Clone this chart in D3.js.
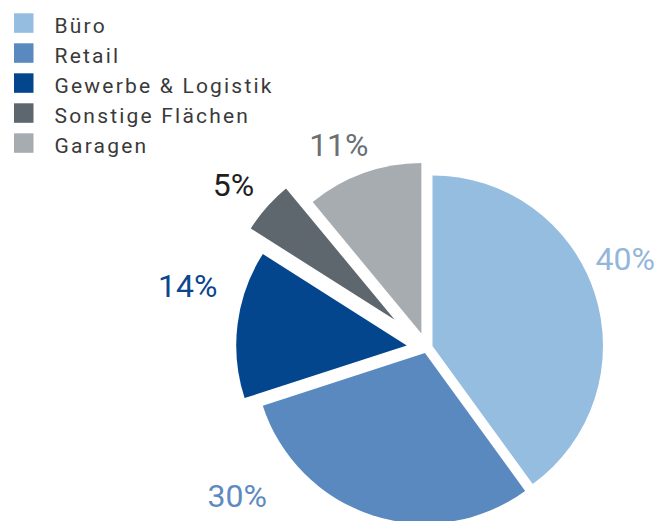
<!DOCTYPE html>
<html>
<head>
<meta charset="utf-8">
<script src="https://cdn.jsdelivr.net/npm/d3@7"></script>
<style>
  html, body { margin: 0; padding: 0; background: #fff; }
  svg { display: block; }
</style>
</head>
<body>
<svg id="chart" width="659" height="521"></svg>
<script>
// Flächenverteilung nach Nutzungsart (in %)
const categories = ["Büro", "Retail", "Gewerbe & Logistik", "Sonstige Flächen", "Garagen"];
const shares = [40, 30, 14, 5, 11];
const labels = ["40%", "30%", "14%", "5%", "11%"];

// Styling
const sliceColors = ["#95bde0", "#5a89c0", "#03468e", "#5e666e", "#a7acb1"];
const labelColors = ["#93b6da", "#5d8bc0", "#0a478e", "#1e1e1e", "#6a6f74"];
const explode = [6.2, 5.4, 20, 42.5, 15.4];          // radial pull-out per slice
const labelPolar = [[65.7, 218], [232.1, 240], [284.7, 247], [310.2, 253], [336.6, 221]]; // [deg, radius]

const W = 659, H = 521;
const cx = 426.6, cy = 347.9, R = 170.5;

const svg = d3.select("#chart");

const pie = d3.pie().sort(null).value(d => d).startAngle(0).endAngle(2 * Math.PI);
const arcs = pie(shares);
const arc = d3.arc().innerRadius(0).outerRadius(R);

const g = svg.append("g").attr("transform", `translate(${cx},${cy})`);

g.selectAll("path.slice")
  .data(arcs)
  .join("path")
  .attr("class", "slice")
  .attr("fill", (d, i) => sliceColors[i])
  .attr("d", arc)
  .attr("transform", (d, i) => {
    const mid = (d.startAngle + d.endAngle) / 2;
    return `translate(${Math.sin(mid) * explode[i]},${-Math.cos(mid) * explode[i]})`;
  });

// Percentage labels around the pie
const pctSize = 32;
g.selectAll("text.pct")
  .data(arcs)
  .join("text")
  .attr("class", "pct")
  .attr("x", (d, i) => Math.sin(labelPolar[i][0] * Math.PI / 180) * labelPolar[i][1])
  .attr("y", (d, i) => -Math.cos(labelPolar[i][0] * Math.PI / 180) * labelPolar[i][1] + pctSize * 0.355)
  .attr("text-anchor", "middle")
  .attr("font-family", "Roboto, 'DejaVu Sans', sans-serif")
  .attr("font-size", pctSize)
  .attr("fill", (d, i) => labelColors[i])
  .text((d, i) => labels[i]);

// Legend
const legend = svg.append("g").attr("transform", "translate(14,13.3)");
const rows = legend.selectAll("g.row")
  .data(categories)
  .join("g")
  .attr("class", "row")
  .attr("transform", (d, i) => `translate(0,${i * 30})`);

rows.append("rect")
  .attr("width", 19.5)
  .attr("height", 19.5)
  .attr("fill", (d, i) => sliceColors[i]);

rows.append("text")
  .attr("x", 40.5)
  .attr("y", 20)
  .attr("font-family", "Roboto, 'DejaVu Sans', sans-serif")
  .attr("font-size", 21)
  .attr("letter-spacing", 2.2)
  .attr("fill", "#3a3a3a")
  .text(d => d);
</script>
</body>
</html>
